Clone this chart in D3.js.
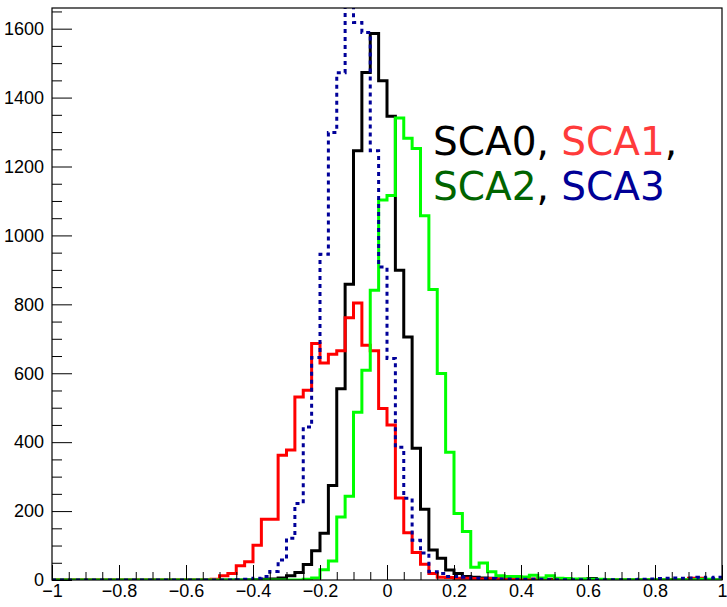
<!DOCTYPE html>
<html lang="en">
<head>
    <meta charset="UTF-8">
    <script src="https://d3js.org/d3.v7.min.js"></script>
    <style>
        body { margin: 0; background: #fff; }
        .axis text { font-family: "Liberation Sans", Arial, sans-serif; font-size: 18px; fill: #000; }
        .axis line { stroke: #000; stroke-width: 1px; }
        .legend { font-family: "DejaVu Sans", sans-serif; font-size: 39px; }
    </style>
</head>
<body>
<script>
// histogram binning: 80 bins between -1 and 1
var xMin = -1, xMax = 1, nBins = 80;

// bin contents
var sca0 = [
    0,0,0,0,0,0,0,0,0,0,
    0,0,0,0,0,0,0,0,0,0,
    0,0,0,1,1,2,3,6,12,22,
    45,85,136,274,555,858,1246,1473,1586,1449,
    1346,899,705,382,205,87,63,29,19,10,
    8,6,5,3,3,2,2,2,1,2,
    1,1,1,2,4,1,1,0,0,0,
    0,0,0,0,0,0,0,0,0,0
];
var sca1 = [
    0,0,0,0,0,0,0,0,0,0,
    0,0,0,0,0,0,0,0,0,2,
    12,19,41,53,101,176,176,362,377,531,
    551,686,630,655,665,761,804,681,665,498,
    450,238,137,80,46,19,8,7,5,5,
    4,3,4,3,3,4,3,2,0,0,
    0,0,0,0,0,0,0,0,0,0,
    0,0,0,0,0,0,5,5,0,0
];
var sca2 = [
    0,0,0,0,0,0,0,0,0,0,
    0,0,0,0,0,0,0,0,0,0,
    0,0,0,0,0,0,0,0,0,0,
    2,6,30,55,183,243,487,609,841,1103,
    1116,1341,1282,1252,1057,843,599,371,193,141,
    37,49,24,12,10,10,9,14,6,12,
    5,4,3,3,2,2,1,1,1,1,
    1,1,1,1,1,1,1,2,2,1
];
var sca3 = [
    0,0,0,0,0,0,0,0,0,0,
    0,0,0,0,0,0,0,0,0,0,
    0,0,1,2,5,10,25,58,121,222,
    444,646,945,1299,1472,1720,1618,1589,1246,908,
    643,385,237,115,78,24,19,10,10,8,
    5,4,4,3,3,2,2,2,2,1,
    1,1,1,1,1,1,1,1,1,1,
    2,3,4,5,6,5,6,8,6,8
];

var xTickValues = [-1, -0.8, -0.6, -0.4, -0.2, 0, 0.2, 0.4, 0.6, 0.8, 1];
var yTickValues = [0, 200, 400, 600, 800, 1000, 1200, 1400, 1600];
var legendLines = [
    [{ text: "SCA0", color: "#000000" }, { text: ", ", color: "#000000" }, { text: "SCA1", color: "#ff3b3b" }, { text: ",", color: "#000000" }],
    [{ text: "SCA2", color: "#006400" }, { text: ", ", color: "#000000" }, { text: "SCA3", color: "#000096" }]
];

var width = 727, height = 607;
var padL = 52, padR = 722, padT = 8, padB = 580;

var svg = d3.select("body").append("svg")
    .attr("width", width)
    .attr("height", height);

var x = d3.scaleLinear().domain([xMin, xMax]).range([padL, padR]);
var y = d3.scaleLinear().domain([0, 1660]).range([padB, padT]);

svg.append("clipPath").attr("id", "plotclip")
    .append("rect")
    .attr("x", padL).attr("y", padT)
    .attr("width", padR - padL).attr("height", padB - padT);

// step outline for one histogram
var binWidth = (xMax - xMin) / nBins;
function histPoints(vals) {
    var pts = vals.map(function (v, i) { return [xMin + i * binWidth, v]; });
    pts.push([xMax, vals[vals.length - 1]]);
    return pts;
}
var line = d3.line()
    .x(function (d) { return x(d[0]); })
    .y(function (d) { return y(d[1]); })
    .curve(d3.curveStepAfter);

var series = [
    { vals: sca0, color: "#000000", dash: null },
    { vals: sca1, color: "#ff0000", dash: null },
    { vals: sca2, color: "#00ff00", dash: null },
    { vals: sca3, color: "#000099", dash: "4,4" }
];

var plot = svg.append("g").attr("clip-path", "url(#plotclip)");
series.forEach(function (s) {
    plot.append("path")
        .attr("d", line(histPoints(s.vals)))
        .attr("fill", "none")
        .attr("stroke", s.color)
        .attr("stroke-width", 3)
        .attr("stroke-dasharray", s.dash);
});

// axes, ticks pointing inward like ROOT
var fmt = d3.format("~g");
svg.append("g").attr("class", "axis")
    .attr("transform", "translate(0," + padB + ")")
    .call(d3.axisBottom(x).tickValues(xTickValues).tickFormat(fmt).tickSizeInner(-15).tickSizeOuter(0).tickPadding(4));
var xMinor = d3.range(-0.95, 1.0, 0.05).filter(function (v) { return Math.abs(Math.round(v * 5) - v * 5) > 0.01; });
svg.append("g").attr("class", "axis")
    .attr("transform", "translate(0," + padB + ")")
    .call(d3.axisBottom(x).tickValues(xMinor).tickFormat("").tickSizeInner(-8).tickSizeOuter(0));

svg.append("g").attr("class", "axis")
    .attr("transform", "translate(" + padL + ",0)")
    .call(d3.axisLeft(y).tickValues(yTickValues).tickFormat(fmt).tickSizeInner(-20).tickSizeOuter(0).tickPadding(8));
var yMinor = d3.range(50, 1660, 50).filter(function (v) { return v % 200 !== 0; });
svg.append("g").attr("class", "axis")
    .attr("transform", "translate(" + padL + ",0)")
    .call(d3.axisLeft(y).tickValues(yMinor).tickFormat("").tickSizeInner(-10).tickSizeOuter(0));

svg.selectAll(".axis .domain").remove();

// frame
svg.append("rect")
    .attr("x", padL).attr("y", padT)
    .attr("width", padR - padL).attr("height", padB - padT)
    .attr("fill", "none")
    .attr("stroke", "#000")
    .attr("stroke-width", 1.2);

// legend text
var legend = svg.append("text").attr("class", "legend");
legendLines.forEach(function (parts, li) {
    parts.forEach(function (p, pi) {
        var t = legend.append("tspan").attr("fill", p.color).text(p.text);
        if (pi === 0) t.attr("x", 433).attr("y", 155 + li * 45);
    });
});
</script>
</body>
</html>
